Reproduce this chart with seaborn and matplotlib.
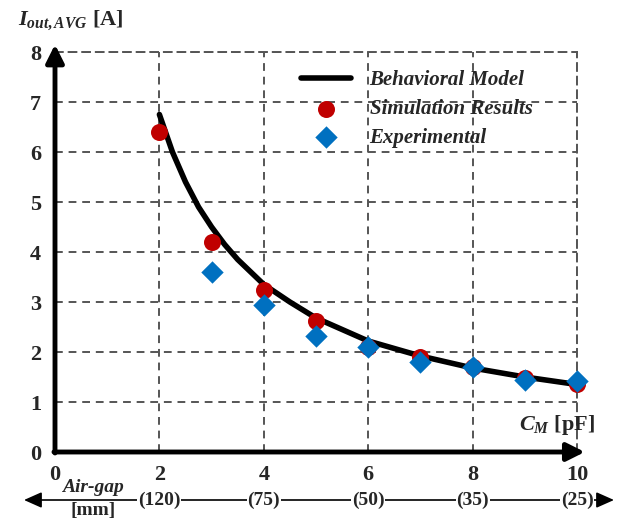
import matplotlib
matplotlib.use("Agg")
import matplotlib.pyplot as plt
import seaborn as sns
import pandas as pd

# ---- data ----
model_x = [2.0, 2.25, 2.5, 2.75, 3.0, 3.25, 3.5, 4.0, 4.5, 5.0, 6.0, 7.0, 8.0, 9.0, 10.0]
model_y = [6.75, 6.0, 5.4, 4.9, 4.5, 4.15, 3.85, 3.35, 3.0, 2.68, 2.22, 1.92, 1.68, 1.5, 1.35]
sim_x = [2, 3, 4, 5, 6, 7, 8, 9, 10]
sim_y = [6.4, 4.2, 3.25, 2.62, 2.1, 1.9, 1.7, 1.48, 1.37]
exp_x = [3, 4, 5, 6, 7, 8, 9, 10]
exp_y = [3.6, 2.95, 2.33, 2.1, 1.8, 1.7, 1.45, 1.42]
x_ticks = [0, 2, 4, 6, 8, 10]
y_ticks = [0, 1, 2, 3, 4, 5, 6, 7, 8]
gap_labels = ["(120)", "(75)", "(50)", "(35)", "(25)"]
gap_pos = [2, 4, 6, 8, 10]

sns.set_theme(style="white")
plt.rcParams["font.family"] = ["Liberation Serif", "DejaVu Serif"]
plt.rcParams["font.weight"] = "bold"
plt.rcParams["mathtext.fontset"] = "custom"
plt.rcParams["mathtext.it"] = "Liberation Serif:italic:bold"
plt.rcParams["mathtext.rm"] = "Liberation Serif:bold"
plt.rcParams["mathtext.bf"] = "Liberation Serif:bold"

fig = plt.figure(figsize=(6.32, 5.19), dpi=100)
ax = fig.add_axes([55/632, 1 - 452/519, (577 - 55)/632, (452 - 52)/519])

dfm = pd.DataFrame({"x": model_x, "y": model_y})
dfs = pd.DataFrame({"x": sim_x, "y": sim_y})
dfe = pd.DataFrame({"x": exp_x, "y": exp_y})

sns.lineplot(data=dfm, x="x", y="y", ax=ax, color="black", lw=4,
             label="Behavioral Model", zorder=3, clip_on=False)
sns.scatterplot(data=dfs, x="x", y="y", ax=ax, color="#C00000", marker="o",
                s=150, linewidth=0, label="Simulation Results", zorder=4, clip_on=False)
sns.scatterplot(data=dfe, x="x", y="y", ax=ax, color="#0070C0", marker="D",
                s=130, linewidth=0, label="Experimental", zorder=5, clip_on=False)

ax.set_xlim(0, 10)
ax.set_ylim(0, 8)
ax.set_xticks(x_ticks)
ax.set_yticks(y_ticks)
ax.set_xlabel("")
ax.set_ylabel("")
ax.tick_params(axis="both", length=0, labelsize=16)
ax.tick_params(axis="x", pad=9)
ax.tick_params(axis="y", pad=10)
for lab in ax.get_xticklabels() + ax.get_yticklabels():
    lab.set_fontweight("bold")
ax.grid(True, linestyle=(0, (4, 3)), color="#555555", lw=1.4)
for s in ["left", "bottom"]:
    ax.spines[s].set_visible(False)
for s in ["top", "right"]:
    ax.spines[s].set_linestyle((0, (4, 3)))
    ax.spines[s].set_color("#555555")
    ax.spines[s].set_linewidth(1.4)

# thick axes with arrows
ax.annotate("", xy=(0, 8.15), xytext=(0, -0.02), xycoords="data",
            arrowprops=dict(arrowstyle="-|>,head_width=0.45,head_length=0.9",
                            lw=3.5, color="black", shrinkA=0, shrinkB=0),
            annotation_clip=False, zorder=6)
ax.annotate("", xy=(10.15, 0), xytext=(-0.02, 0), xycoords="data",
            arrowprops=dict(arrowstyle="-|>,head_width=0.45,head_length=0.9",
                            lw=3.5, color="black", shrinkA=0, shrinkB=0),
            annotation_clip=False, zorder=6)

leg = ax.legend(loc="upper left", bbox_to_anchor=(0.455, 0.975), frameon=False,
                prop=dict(family="Liberation Serif", style="italic", weight="bold", size=15),
                handlelength=2.4, labelspacing=0.42, handletextpad=0.9, borderaxespad=0)

fig.text(18/632, 1 - 20/519, r"$I_{out,AVG}$ [A]", fontsize=16, fontweight="bold",
         va="center", ha="left")
fig.text(595/632, 1 - 425/519, r"$C_M$ [pF]", fontsize=16, fontweight="bold",
         va="center", ha="right")

# air gap axis
ygap = 1 - 500/519
ax.annotate("", xy=(614/632, ygap), xytext=(24/632, ygap), xycoords="figure fraction",
            arrowprops=dict(arrowstyle="<|-|>,head_width=0.4,head_length=0.9",
                            lw=1.2, color="black", shrinkA=0, shrinkB=0),
            annotation_clip=False)
for p, l in zip(gap_pos, gap_labels):
    ax.text(p, (500 - 452) / -400.0, l, transform=ax.get_xaxis_transform(), fontsize=14,
            fontweight="bold", ha="center", va="center",
            bbox=dict(facecolor="white", edgecolor="none", pad=0.5))
fig.text(93/632, 1 - 488/519, "Air-gap", fontsize=14, fontweight="bold",
         style="italic", ha="center", va="center",
         bbox=dict(facecolor="white", edgecolor="none", pad=0.3))
fig.text(93/632, 1 - 511/519, "[mm]", fontsize=14, fontweight="bold",
         ha="center", va="center")

fig.savefig("out.png", dpi=100)
